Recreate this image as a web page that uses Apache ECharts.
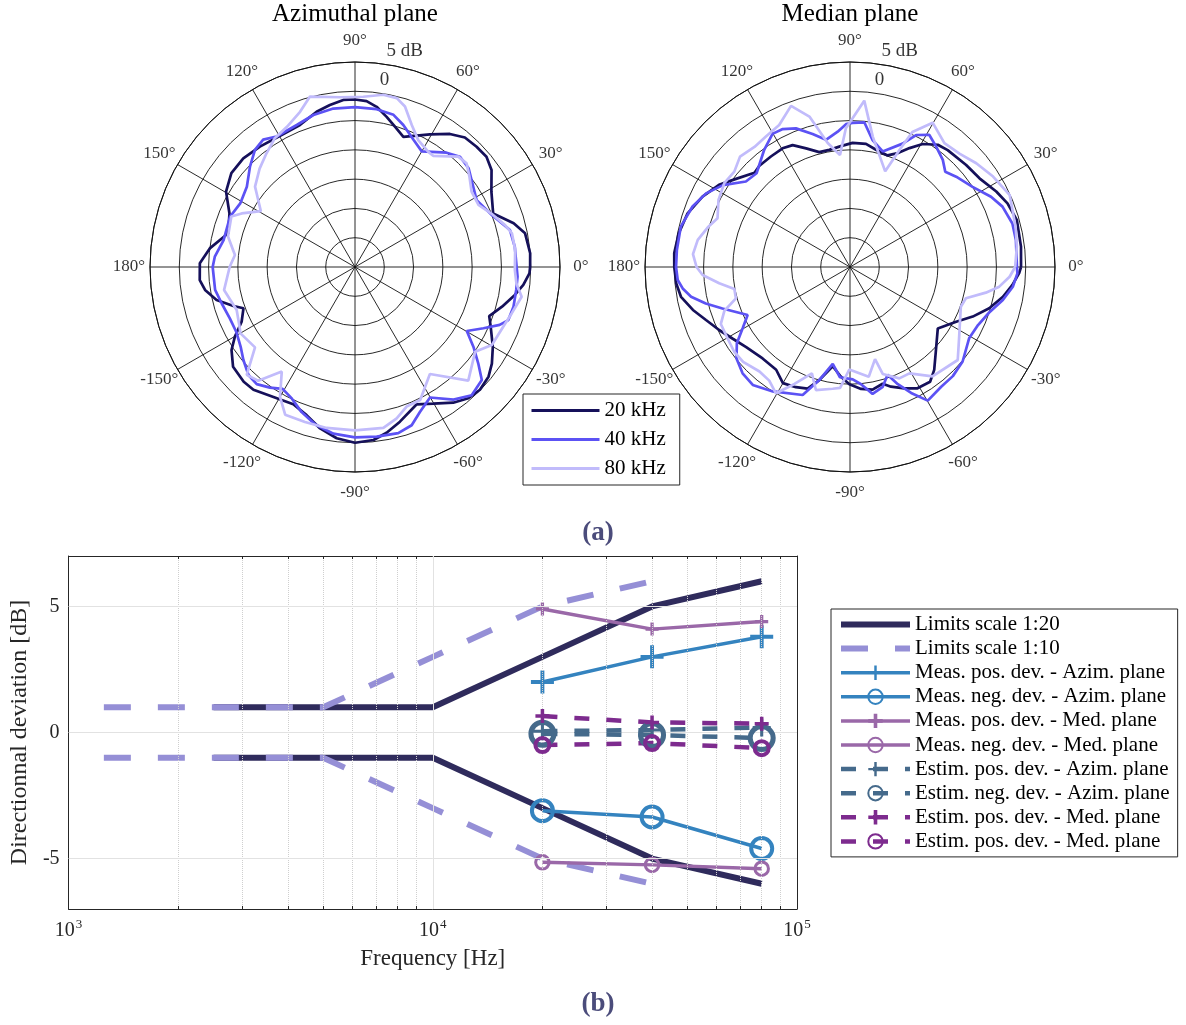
<!DOCTYPE html>
<html>
<head>
<meta charset="utf-8">
<script src="https://cdn.jsdelivr.net/npm/echarts@6/dist/echarts.min.js"></script>
<style>
html, body { margin: 0; padding: 0; background: #fff; }
#chart { width: 1186px; height: 1025px; }
</style>
</head>
<body>
<div id="chart"></div>
<script>
// ---------- (a) directivity patterns: [angle in degrees, relative level in dB] ----------
const azim20 = [[0,-0.1],[4.5,0.0],[11.2,-0.4],[15.4,-1.9],[21.2,-4.7],[28.9,-3.4],[35.4,-1.4],[40,-0.7],[44.7,-0.8],[49.7,-1.0],[54.5,-2.1],[60.5,-4.0],[69.6,-6.3],[74.1,-5.1],[78.1,-3.8],[82.3,-2.4],[86,-1.6],[90,-1.4],[94,-1.4],[98.8,-2.0],[103.9,-2.7],[111.2,-4.0],[119.1,-4.2],[128.3,-3.8],[135.8,-3.4],[142.8,-3.5],[149.7,-4.5],[156.9,-6.7],[165.1,-7.6],[172.7,-5.0],[178.6,-3.5],
  [184.8,-3.4],[188.7,-4.1],[193.4,-5.7],[197.8,-8.2],[200.3,-9.7],[205.8,-8.5],[210.1,-6.3],[213.9,-4.6],[219.3,-3.1],[225.9,-2.7],[230.4,-2.8],[237.9,-3.8],[245.8,-4.3],[251.9,-3.4],[257.8,-1.8],[263.9,-0.6],[270,0.0],[276.1,-0.3],[280.8,-1.2],[286.2,-2.5],[294.2,-4.3],[299.8,-3.1],[305.9,-1.4],[310.8,-0.4],[315.5,-0.1],[320.6,-0.5],[324.8,-1.4],[329.9,-2.8],[336.3,-4.7],[339.9,-5.6],[344.9,-4.0],[350.1,-2.3],[353.9,-1.1],[357.9,-0.2],[360,-0.1]];
const azim40 = [[0,-2.4],[7.2,-2.5],[13.4,-2.8],[20.8,-5.0],[28.8,-6.3],[34.2,-5.6],[41,-4.3],[46.4,-4.0],[51.3,-5.0],[60,-7.2],[65.3,-6.1],[71.2,-4.4],[75.8,-3.2],[82.2,-2.8],[90,-2.7],[97.8,-2.7],[105.3,-3.1],[112.3,-3.8],[121,-4.0],[125.8,-3.2],[130.5,-3.7],[136.3,-5.2],[143.4,-7.0],[151,-7.6],[158.1,-7.0],[168.4,-7.1],[175.8,-6.0],[180,-5.7],
  [189.3,-5.8],[195.2,-6.4],[202.3,-6.9],[208.7,-6.9],[214.9,-6.2],[219.8,-5.2],[225.4,-4.1],[230,-3.9],[234.8,-4.8],[239.3,-5.8],[244.3,-5.1],[249.8,-3.6],[255.7,-2.3],[262.6,-1.3],[270,-0.9],[277.3,-0.8],[284.6,-0.7],[289.7,-1.3],[294.2,-2.9],[299.9,-4.3],[306.6,-1.8],[312.3,-0.4],[318.3,-1.0],[322,-3.3],[326,-5.6],[330.2,-8.0],[334.5,-5.7],[338.2,-3.4],[340.9,-2.3],[345.9,-2.1],[351.9,-2.2],[356.6,-2.2],[360,-2.4]];
const azim80 = [[0,-2.7],[6.1,-2.5],[12.1,-2.6],[15.6,-3.4],[21.4,-5.0],[26.7,-6.4],[32.9,-6.3],[38.3,-5.1],[42.9,-4.0],[46.9,-4.2],[54.9,-6.8],[57.5,-6.7],[63.5,-5.8],[68.2,-3.9],[72.7,-1.3],[76.1,-0.3],[80.7,-0.2],[87.2,-0.9],[95.1,-0.9],[104.8,0.1],[109.5,-1.9],[115.9,-3.4],[121.9,-4.1],[127.9,-5.4],[134.1,-6.6],[141.2,-8.1],[145.3,-9.9],[149.3,-11.3],[154.7,-8.6],[157.8,-7.2],[166.5,-7.7],[174.3,-9.4],[180,-8.6],
  [190,-7.3],[200,-8.5],[206.6,-7.9],[210.1,-7.4],[218.8,-8.1],[224.9,-3.9],[229.6,-4.5],[235,-8.2],[240,-4.4],[244.7,-2.1],[252.1,-2.2],[260,-2.1],[270,-2.1],[280,-2.1],[285.4,-3.2],[290.3,-4.6],[296.1,-4.7],[305,-7.7],[314.9,-2.6],[324.8,-4.9],[330.3,-3.1],[339.4,-2.6],[343.5,-2.1],[349.9,-1.1],[354.2,-2.3],[358.9,-2.7],[360,-2.7]];
const med20 = [[0,-0.8],[6.8,-0.6],[15.7,-0.4],[22,-1.0],[27.3,-1.9],[34.4,-3.2],[41.3,-3.6],[50.1,-4.0],[54.3,-4.3],[59.4,-5.6],[63.4,-7.3],[67.2,-8.9],[71.4,-9.9],[77.5,-9.5],[82.6,-8.8],[88.8,-8.8],[94.3,-9.3],[100,-9.7],[105,-9.7],[110.3,-8.4],[115.2,-7.0],[119.6,-6.7],[125.6,-6.8],[131.8,-6.8],[135.4,-7.1],[142.3,-5.4],[147.9,-3.6],[154.5,-2.1],[161.7,-0.8],[168.9,-0.2],[175.5,0.1],[180,0.0],
  [185.4,-0.2],[190,-0.7],[195.3,-2.2],[200.2,-3.8],[205.7,-5.2],[211.3,-6.5],[217.7,-7.6],[226.3,-8.4],[234.3,-8.4],[240,-7.1],[245.8,-7.5],[250.8,-8.0],[254.8,-10.0],[260.1,-12.8],[265.3,-11.2],[269.7,-10.0],[275.2,-9.1],[280.4,-8.7],[285.6,-9.3],[288.9,-8.4],[294.1,-7.3],[299.1,-6.3],[304.9,-6.1],[309.3,-7.3],[316,-9.6],[325,-11.7],[332.7,-9.6],[338,-7.4],[343.5,-5.2],[349,-3.4],[353.7,-2.1],[357.9,-1.1],[360,-0.8]];
const med40 = [[0,-1.5],[9.2,-1.3],[15,-1.3],[21.6,-2.0],[26.5,-3.1],[33.2,-5.0],[40.4,-6.2],[45,-7.0],[49.1,-5.8],[54.5,-4.7],[59,-3.7],[63.4,-4.8],[66.9,-7.1],[74.2,-9.5],[79.9,-8.0],[84.3,-5.2],[89,-5.4],[91.6,-5.6],[95.2,-6.8],[100.7,-7.9],[105.7,-6.4],[111.3,-4.6],[116,-3.8],[120.2,-3.7],[126.2,-5.2],[134.9,-7.4],[140.6,-7.0],[147.2,-4.2],[152.9,-2.4],[159,-1.2],[166.6,-0.3],[174.4,-0.3],[180,-0.3],
  [184.3,-0.5],[187.3,-1.2],[190.6,-2.4],[194.2,-4.6],[198,-7.1],[205.1,-10.7],[209.7,-8.9],[214,-6.7],[218.9,-5.1],[224.7,-4.2],[230.5,-3.9],[238.2,-5.0],[249.7,-6.7],[254.8,-10.0],[259.9,-13.2],[264.8,-11.1],[271.4,-10.8],[275.4,-9.9],[280.1,-8.0],[285.3,-8.8],[289.2,-10.5],[292.2,-8.4],[295.9,-6.1],[300.2,-3.6],[307.3,-4.3],[313.3,-4.4],[320,-4.9],[329.1,-6.3],[335.6,-6.0],[341.9,-5.0],[347.8,-3.3],[353.1,-2.0],[357.8,-1.4],[360,-1.5]];
const med80 = [[0,-1.8],[7,-1.3],[13.7,-0.9],[24.2,-0.1],[32.3,-1.1],[39.4,-2.1],[46,-3.1],[52.7,-3.4],[60.2,-1.6],[65.2,-4.6],[67.1,-8.3],[69.8,-12.6],[80.1,-7.4],[85.1,-1.5],[89,-4.6],[91.7,-6.3],[95.1,-10.8],[100.2,-8.5],[105.1,-3.4],[110.1,-0.7],[116.5,-2.9],[122.8,-3.5],[128.5,-3.8],[134.9,-3.4],[140.5,-4.4],[146.3,-4.2],[153,-4.8],[159.8,-5.9],[164.4,-4.8],[169.9,-3.6],[175.3,-3.1],[180,-3.8],
  [183.1,-4.8],[187.1,-7.5],[190.8,-9.9],[195.4,-9.8],[199.2,-7.3],[203.8,-5.9],[210.3,-5.8],[216.2,-5.5],[221.6,-5.6],[229.1,-6.4],[234.6,-6.2],[239.6,-5.0],[244.6,-7.9],[250.3,-10.7],[254.5,-8.2],[261.9,-9.0],[265.3,-9.3],[269.6,-12.5],[279.7,-11.0],[285.2,-13.7],[287,-10.9],[293.9,-9.2],[299.2,-9.2],[307,-6.6],[319.2,-5.7],[327.5,-7.9],[340.3,-9.9],[344.9,-9.5],[349.3,-6.4],[352.5,-4.3],[356.5,-2.7],[360,-1.8]];

const freqNames = ['20 kHz', '40 kHz', '80 kHz'];
const planeTitles = ['Azimuthal plane', 'Median plane'];
const angleTicks = [0, 30, 60, 90, 120, 150, 180, 210, 240, 270, 300, 330];
const radialTicks = [0, 5];
const radialTickText = ['0', '5 dB'];

// ---------- (b) directional deviation vs frequency ----------
const lim20Freq = [2500, 10000, 20000, 40000, 80000];
const lim20Upper = [1, 1, 3, 5, 6];
const lim20Lower = [-1, -1, -3, -5, -6];
const lim10Freq = [1250, 5000, 10000, 20000, 40000];
const lim10Upper = [1, 1, 3, 5, 6];
const lim10Lower = [-1, -1, -3, -5, -6];
const measFreq = [20000, 40000, 80000];
const measPosAzim = [2.0, 3.0, 3.8];
const measNegAzim = [-3.1, -3.35, -4.6];
const measPosMed = [4.9, 4.1, 4.4];
const measNegMed = [-5.15, -5.25, -5.4];
const estPosAzim = [0.05, 0.1, 0.2];
const estNegAzim = [-0.05, -0.1, -0.22];
const estPosMed = [0.65, 0.4, 0.35];
const estNegMed = [-0.5, -0.42, -0.62];
const legendText = ['Limits scale 1:20', 'Limits scale 1:10',
  'Meas. pos. dev. - Azim. plane', 'Meas. neg. dev. - Azim. plane',
  'Meas. pos. dev. - Med. plane', 'Meas. neg. dev. - Med. plane',
  'Estim. pos. dev. - Azim. plane', 'Estim. neg. dev. - Azim. plane',
  'Estim. pos. dev. - Med. plane', 'Estim. pos. dev. - Med. plane'];
const xTicks = [1000, 10000, 100000];
const yTicks = [-5, 0, 5];
const minorFreqs = [2000, 3000, 4000, 5000, 6000, 7000, 8000, 9000,
  20000, 30000, 40000, 50000, 60000, 70000, 80000, 90000];

// ---------- styling ----------
const FONT = 'Liberation Serif';
const AX = '#262626';
const freqColors = ['#15105a', '#5c52f4', '#c1bbfb'];
const C_LIM20 = '#2f2b5c', C_LIM10 = '#958fd6';
const C_MAZ = '#3483bf', C_MMED = '#9a68a8';
const C_EAZ = '#456a8b', C_EMED = '#7d2b8e';
const PLUS_THIN = 'path://M8.3,0H11.7V8.3H20V11.7H11.7V20H8.3V11.7H0V8.3H8.3Z';
const PLUS_BOLD = 'path://M7.5,0H12.5V7.5H20V12.5H12.5V20H7.5V12.5H0V7.5H7.5Z';
const seriesIds = ['lim20', 'lim10', 'mPosAz', 'mNegAz', 'mPosMed', 'mNegMed',
  'ePosAz', 'eNegAz', 'ePosMed', 'eNegMed'];

const zip = (xs, ys) => xs.map((x, i) => [x, ys[i]]);
const fmtAngle = a => (a > 180 ? a - 360 : a) + '°';
const patterns = [[azim20, azim40, azim80], [med20, med40, med80]];
const polarCenters = [[355, 267], [850, 267]];
const POLAR_R = 205;
// radius (in dB) where the angle labels sit, just outside the outer ring
const ANGLE_LABEL_R = 5 + 21 / POLAR_R * 35;

const polar = [], angleAxis = [], radiusAxis = [], series = [];
polarCenters.forEach((c, i) => {
  polar.push({ center: c, radius: POLAR_R });
  angleAxis.push({
    polarIndex: i, type: 'value', min: 0, max: 360, interval: 30,
    startAngle: 0, clockwise: false,
    axisLine: { lineStyle: { color: '#111', width: 1 } },
    axisTick: { show: false }, axisLabel: { show: false },
    splitLine: { show: true, lineStyle: { color: '#111', width: 0.9 } }
  });
  radiusAxis.push({
    polarIndex: i, type: 'value', min: -30, max: 5, interval: 5,
    axisLine: { show: false }, axisTick: { show: false }, axisLabel: { show: false },
    splitLine: { show: true, lineStyle: { color: '#111', width: 0.9 } }
  });
  patterns[i].forEach((curve, k) => {
    series.push({
      type: 'line', name: freqNames[k], coordinateSystem: 'polar', polarIndex: i,
      symbol: 'none', silent: true, z: 3 + k,
      data: curve.map(p => [p[1], p[0]]),
      lineStyle: { color: freqColors[k], width: 2.7 },
      itemStyle: { color: freqColors[k] }
    });
  });
  // angle labels around the outer ring
  series.push({
    type: 'scatter', coordinateSystem: 'polar', polarIndex: i, clip: false,
    symbolSize: 0, silent: true, z: 6,
    data: angleTicks.map(a => [ANGLE_LABEL_R, a]),
    label: {
      show: true, position: 'inside', color: '#000', fontSize: 17, fontFamily: FONT,
      formatter: p => fmtAngle(p.value[1])
    }
  });
  // radial level labels along the 80 degree spoke
  series.push({
    type: 'scatter', coordinateSystem: 'polar', polarIndex: i, clip: false,
    symbolSize: 0, silent: true, z: 6,
    data: radialTicks.map((v, j) => ({
      value: [v, 80],
      label: { offset: j === 0 ? [-1, -14] : [14, -14] }
    })),
    label: {
      show: true, position: 'inside', color: '#000', fontSize: 19, fontFamily: FONT,
      formatter: p => radialTickText[p.dataIndex]
    }
  });
});

// ---------- lower panel series ----------
// grid lines and minor ticks, kept beneath the data
const gridMarks = [];
minorFreqs.forEach(f => {
  gridMarks.push({ xAxis: f, lineStyle: { type: 'dotted', color: '#cfcfcf', width: 1 } });
  gridMarks.push([{ coord: [f, -7], lineStyle: { type: 'solid', color: AX, width: 1 } }, { coord: [f, -6.88] }]);
  gridMarks.push([{ coord: [f, 7], lineStyle: { type: 'solid', color: AX, width: 1 } }, { coord: [f, 6.88] }]);
});
gridMarks.push({ xAxis: 10000, lineStyle: { type: 'solid', color: '#e2e2e2', width: 1 } });
yTicks.forEach(v => gridMarks.push({ yAxis: v, lineStyle: { type: 'solid', color: '#e2e2e2', width: 1 } }));

series.push({
  type: 'line', name: 'grid', xAxisIndex: 0, yAxisIndex: 0, data: [], silent: true, z: 1,
  markLine: { silent: true, symbol: ['none', 'none'], label: { show: false }, animation: false, data: gridMarks }
});

function limitSeries(id, freqs, vals, color, dashed) {
  return {
    type: 'line', name: id, xAxisIndex: 0, yAxisIndex: 0, symbol: 'none', silent: true,
    z: dashed ? 3 : 2,
    data: zip(freqs, vals),
    lineStyle: { color, width: 6, type: dashed ? [27, 27] : 'solid', cap: 'butt' },
    itemStyle: { color }
  };
}
series.push(limitSeries('lim20', lim20Freq, lim20Upper, C_LIM20, false));
series.push(limitSeries('lim20', lim20Freq, lim20Lower, C_LIM20, false));
series.push(limitSeries('lim10', lim10Freq, lim10Upper, C_LIM10, true));
series.push(limitSeries('lim10', lim10Freq, lim10Lower, C_LIM10, true));

function devSeries(id, vals, color, marker, size, width, dashed, markerWidth) {
  const isCircle = marker === 'circle';
  return {
    type: 'line', name: id, xAxisIndex: 0, yAxisIndex: 0, silent: true, z: dashed ? 5 : 4,
    data: zip(measFreq, vals),
    symbol: marker, symbolSize: size, showSymbol: true,
    lineStyle: { color, width, type: dashed ? [15, 17] : 'solid', cap: 'butt' },
    itemStyle: isCircle
      ? { color: 'rgba(255,255,255,0)', borderColor: color, borderWidth: markerWidth }
      : { color, borderWidth: 0 }
  };
}
series.push(devSeries('mPosAz', measPosAzim, C_MAZ, PLUS_THIN, 23, 3.5, false));
series.push(devSeries('mNegAz', measNegAzim, C_MAZ, 'circle', 21, 3.5, false, 4));
series.push(devSeries('mPosMed', measPosMed, C_MMED, PLUS_BOLD, 13, 3.5, false));
series.push(devSeries('mNegMed', measNegMed, C_MMED, 'circle', 13.5, 3.5, false, 3));
series.push(devSeries('ePosAz', estPosAzim, C_EAZ, PLUS_THIN, 18, 4.5, true));
series.push(devSeries('eNegAz', estNegAzim, C_EAZ, 'circle', 23, 4.5, true, 5));
series.push(devSeries('ePosMed', estPosMed, C_EMED, PLUS_BOLD, 14, 4.5, true));
series.push(devSeries('eNegMed', estNegMed, C_EMED, 'circle', 14, 4.5, true, 4));

const hiddenIcon = { opacity: 0, color: 'rgba(0,0,0,0)', borderWidth: 0 };

const option = {
  animation: false,
  backgroundColor: '#fff',
  textStyle: { fontFamily: FONT },
  polar, angleAxis, radiusAxis,
  grid: { left: 67, top: 556, width: 730, height: 353 },
  xAxis: [{
    type: 'log', logBase: 10, min: 1000, max: 100000, position: 'bottom',
    axisLine: { onZero: false, lineStyle: { color: AX, width: 1 } },
    axisTick: { inside: true, length: 5, lineStyle: { color: AX }, customValues: xTicks },
    axisLabel: {
      margin: 9, customValues: xTicks,
      formatter: v => '{m|10}{e|' + Math.round(Math.log10(v)) + '}',
      rich: {
        m: { fontSize: 20, color: AX, fontFamily: FONT },
        e: { fontSize: 13, color: AX, fontFamily: FONT, padding: [0, 0, 12, 1] }
      }
    },
    splitLine: { show: false },
    name: 'Frequency [Hz]', nameLocation: 'middle', nameGap: 38,
    nameTextStyle: { fontSize: 23, color: AX, fontFamily: FONT }
  }, {
    type: 'log', logBase: 10, min: 1000, max: 100000, position: 'top',
    axisLine: { onZero: false, lineStyle: { color: AX, width: 1 } },
    axisTick: { inside: true, length: 5, lineStyle: { color: AX }, customValues: xTicks },
    axisLabel: { show: false }, splitLine: { show: false }
  }],
  yAxis: [{
    type: 'value', min: -7, max: 7, position: 'left',
    axisLine: { show: true, onZero: false, lineStyle: { color: AX, width: 1 } },
    axisTick: { show: true, inside: true, length: 5, lineStyle: { color: AX }, customValues: yTicks },
    axisLabel: { margin: 9, fontSize: 20, color: AX, fontFamily: FONT, customValues: yTicks },
    splitLine: { show: false },
    name: 'Directionnal deviation [dB]', nameLocation: 'middle', nameGap: 35, nameRotate: 90,
    nameTextStyle: { fontSize: 24, color: AX, fontFamily: FONT }
  }, {
    type: 'value', min: -7, max: 7, position: 'right',
    axisLine: { show: true, onZero: false, lineStyle: { color: AX, width: 1 } },
    axisTick: { show: true, inside: true, length: 5, lineStyle: { color: AX }, customValues: yTicks },
    axisLabel: { show: false }, splitLine: { show: false }
  }],
  legend: [{
    data: freqNames.slice(), orient: 'vertical', left: 523, top: 394,
    itemWidth: 68, itemHeight: 20, itemGap: 8, padding: [6, 14, 6, 7],
    borderColor: AX, borderWidth: 1, backgroundColor: '#fff', selectedMode: false,
    itemStyle: hiddenIcon, lineStyle: { width: 3 },
    textStyle: { fontSize: 21, lineHeight: 20, color: '#000', fontFamily: FONT }
  }, {
    data: seriesIds.map((id, i) => (i < 2 ? { name: id, itemStyle: hiddenIcon } : { name: id })),
    orient: 'vertical', left: 831, top: 609,
    itemWidth: 69, itemHeight: 18, itemGap: 3.1, padding: [5, 8, 5, 7],
    borderColor: AX, borderWidth: 1, backgroundColor: '#fff', selectedMode: false,
    lineStyle: { width: 'inherit' },
    formatter: name => legendText[seriesIds.indexOf(name)],
    textStyle: { fontSize: 21, lineHeight: 18, color: '#000', fontFamily: FONT }
  }],
  graphic: [
    { type: 'text', x: 355, y: 14, style: { text: planeTitles[0], align: 'center', verticalAlign: 'middle', fontSize: 25, fontFamily: FONT, fill: '#000' } },
    { type: 'text', x: 850, y: 14, style: { text: planeTitles[1], align: 'center', verticalAlign: 'middle', fontSize: 25, fontFamily: FONT, fill: '#000' } },
    { type: 'text', x: 598, y: 533, style: { text: '(a)', align: 'center', verticalAlign: 'middle', fontSize: 27, fontWeight: 'bold', fontFamily: FONT, fill: '#4b4c7b' } },
    { type: 'text', x: 598, y: 1004, style: { text: '(b)', align: 'center', verticalAlign: 'middle', fontSize: 27, fontWeight: 'bold', fontFamily: FONT, fill: '#4b4c7b' } }
  ],
  series
};

const chart = echarts.init(document.getElementById('chart'), null, { renderer: 'canvas' });
chart.setOption(option);
</script>
</body>
</html>
